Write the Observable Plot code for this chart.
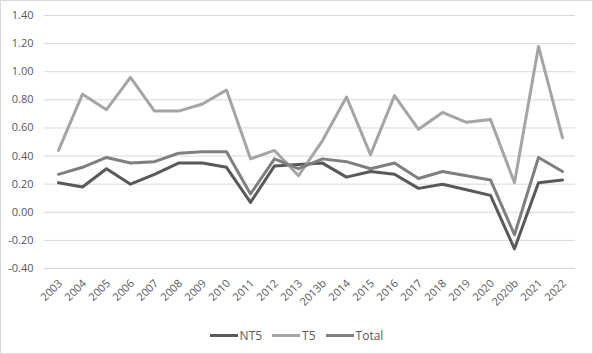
<!DOCTYPE html>
<html>
<head>
<meta charset="utf-8">
<script src="https://cdn.jsdelivr.net/npm/d3@7"></script>
<script src="https://cdn.jsdelivr.net/npm/@observablehq/plot@0.6"></script>
<style>
  html, body { margin: 0; padding: 0; background: #fff; }
  #wrap { position: relative; width: 593px; height: 354px; overflow: hidden; background: #fff; }
  #frame { position: absolute; left: 0; top: 0; width: 593px; height: 354px; box-sizing: border-box; border: 1px solid #d9d9d9; pointer-events: none; }
  #chart { position: absolute; left: 0; top: 0; }
  #legend { position: absolute; left: 0; top: 327px; width: 593px; display: flex; justify-content: center; align-items: center;
    font-family: "Open Sans", sans-serif; font-size: 12px; color: #595959; }
  .item { display: flex; align-items: center; margin: 0 5px; }
  .sw { width: 28px; height: 3px; margin-right: 2px; }
</style>
</head>
<body>
<div id="wrap">
  <div id="chart"></div>
  <div id="legend"></div>
  <div id="frame"></div>
</div>
<script>
const categories = ["2003","2004","2005","2006","2007","2008","2009","2010","2011","2012","2013","2013b","2014","2015","2016","2017","2018","2019","2020","2020b","2021","2022"];
const nt5   = [0.21, 0.18, 0.31, 0.20, 0.27, 0.35, 0.35, 0.32, 0.07, 0.33, 0.34, 0.35, 0.25, 0.29, 0.27, 0.17, 0.20, 0.16, 0.12, -0.26, 0.21, 0.23];
const t5    = [0.44, 0.84, 0.73, 0.96, 0.72, 0.72, 0.77, 0.87, 0.38, 0.44, 0.26, 0.51, 0.82, 0.41, 0.83, 0.59, 0.71, 0.64, 0.66, 0.21, 1.18, 0.53];
const total = [0.27, 0.32, 0.39, 0.35, 0.36, 0.42, 0.43, 0.43, 0.13, 0.38, 0.31, 0.38, 0.36, 0.31, 0.35, 0.24, 0.29, 0.26, 0.23, -0.16, 0.39, 0.29];
const seriesNames = ["NT5", "T5", "Total"];
const seriesColors = ["#595959", "#a5a5a5", "#7f7f7f"];
const yTicks = [-0.4, -0.2, 0, 0.2, 0.4, 0.6, 0.8, 1.0, 1.2, 1.4];

const seriesValues = [nt5, t5, total];
const data = seriesNames.flatMap((s, k) => categories.map((c, i) => ({cat: c, series: s, value: seriesValues[k][i]})));
const fmt = d => d.toFixed(2);

const plot = Plot.plot({
  width: 593,
  height: 318,
  marginLeft: 44,
  marginRight: 18,
  marginTop: 15,
  marginBottom: 50,
  style: {fontFamily: "'Open Sans', sans-serif", fontSize: "11px", color: "#595959", background: "transparent"},
  x: {type: "point", domain: categories, padding: 0.5, label: null},
  y: {domain: [-0.4, 1.4], label: null},
  color: {domain: seriesNames, range: seriesColors},
  marks: [
    Plot.gridY(yTicks, {stroke: "#d9d9d9", strokeOpacity: 1, strokeWidth: 1}),
    Plot.axisY(yTicks, {tickSize: 0, tickPadding: 11, tickFormat: fmt, fill: "#595959", label: null}),
    Plot.axisX({tickSize: 0, tickRotate: -45, tickPadding: 13, dx: 2, fill: "#595959", label: null}),
    Plot.line(data, {x: "cat", y: "value", z: "series", stroke: "series", strokeWidth: 3, strokeLinejoin: "round", strokeLinecap: "round"})
  ]
});
document.getElementById("chart").appendChild(plot);

const legend = document.getElementById("legend");
seriesNames.forEach((s, i) => {
  const it = document.createElement("div");
  it.className = "item";
  const sw = document.createElement("div");
  sw.className = "sw";
  sw.style.background = seriesColors[i];
  const tx = document.createElement("span");
  tx.textContent = s;
  it.appendChild(sw);
  it.appendChild(tx);
  legend.appendChild(it);
});
</script>
</body>
</html>
